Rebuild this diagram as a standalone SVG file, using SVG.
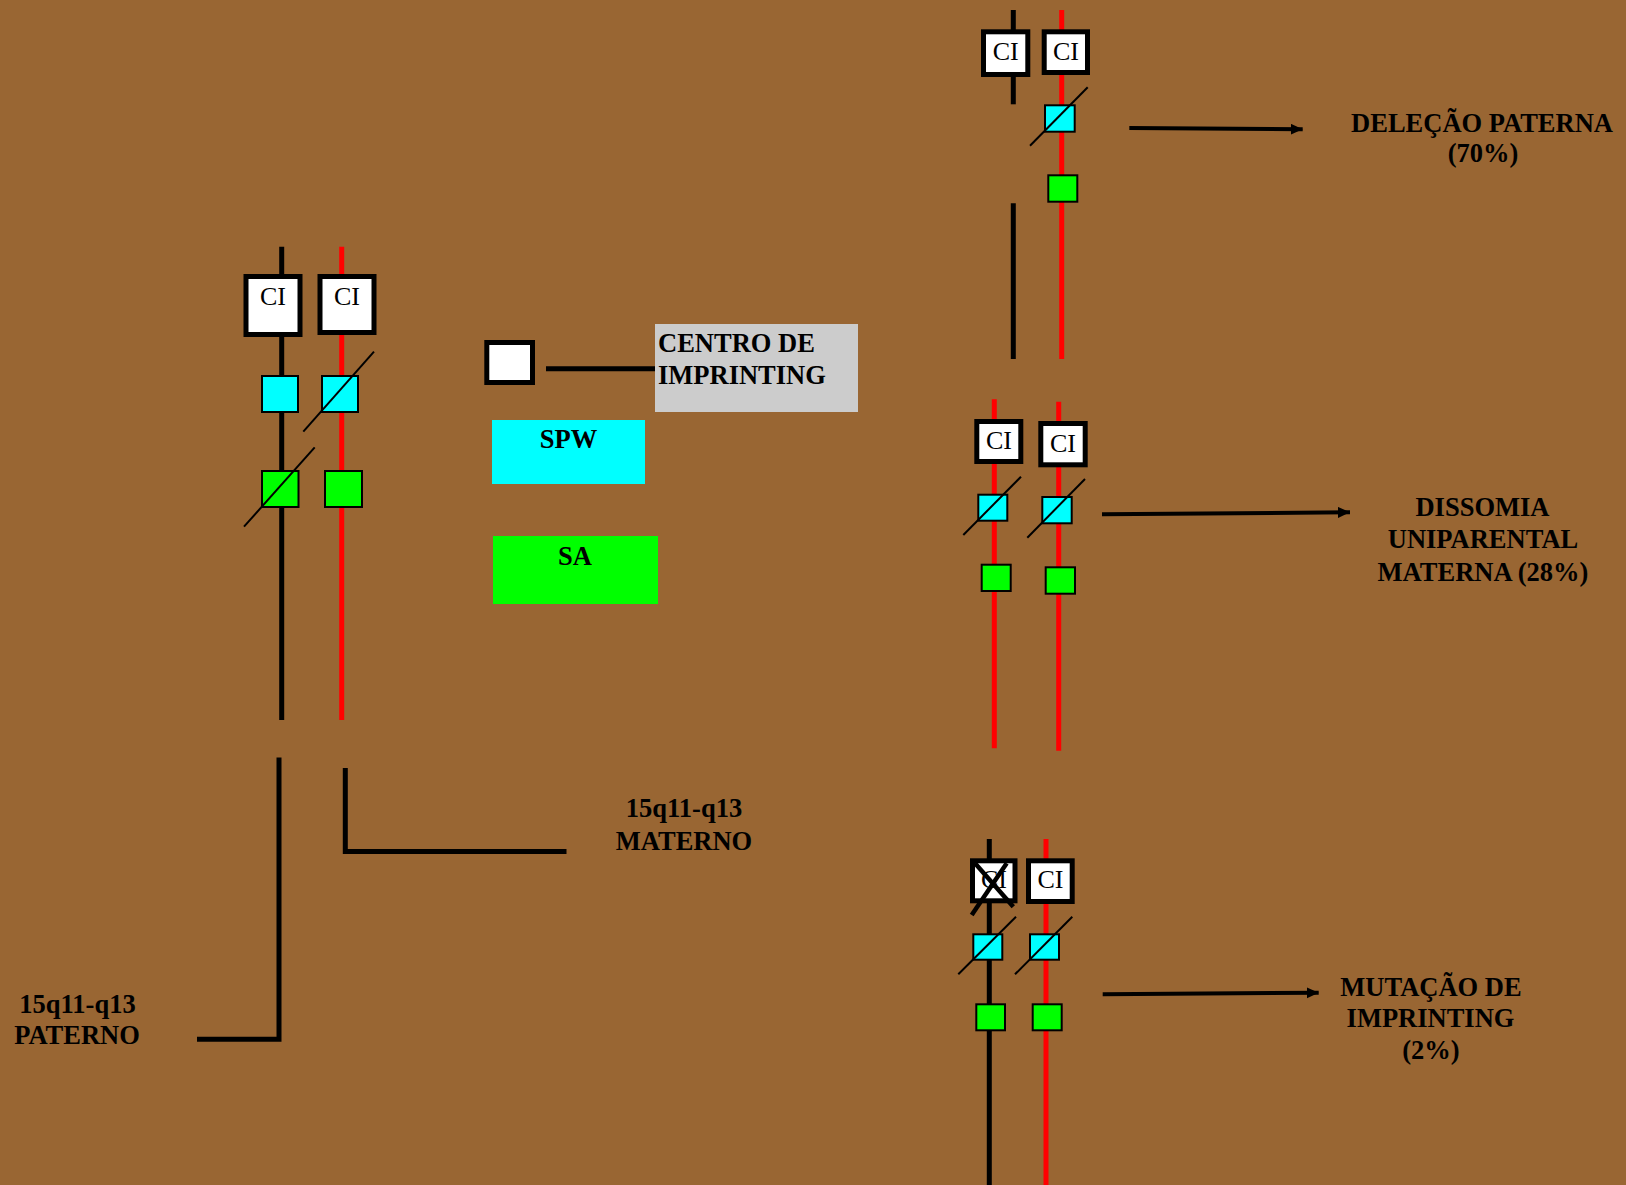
<svg xmlns="http://www.w3.org/2000/svg" width="1626" height="1185" viewBox="0 0 1626 1185">
<style>
.chrB{stroke:#000;stroke-width:5;fill:none}
.chrR{stroke:#f00;stroke-width:5;fill:none}
.ci{fill:#fff;stroke:#000;stroke-width:5}
.cit{font-family:"Liberation Serif",serif;font-size:26px;fill:#000;text-anchor:middle}
.cy{fill:#0ff;stroke:#000;stroke-width:2}
.gr{fill:#0f0;stroke:#000;stroke-width:2}
.sl{stroke:#000;stroke-width:2}
.lbl{font-family:"Liberation Serif",serif;font-size:26.5px;font-weight:bold;fill:#000;text-anchor:middle}
.lblL{font-family:"Liberation Serif",serif;font-size:26.5px;font-weight:bold;fill:#000}
.arr{stroke:#000;stroke-width:4;fill:none;marker-end:url(#ah)}
.conn{stroke:#000;stroke-width:5;fill:none}
</style>
<defs>
<marker id="ah" markerUnits="userSpaceOnUse" markerWidth="13" markerHeight="12" refX="12" refY="5.5" orient="auto">
<path d="M0,0 L12,5.5 L0,11 z" fill="#000"/>
</marker>
</defs>
<rect x="0" y="0" width="1626" height="1185" fill="#996633"/>

<g id="normal-pair">
<line class="chrB" x1="281.7" y1="246.7" x2="281.7" y2="720"/>
<line class="chrR" x1="341.7" y1="246.7" x2="341.7" y2="720"/>
<rect class="ci" x="246" y="276.5" width="54" height="58"/>
<text class="cit" x="273" y="305">CI</text>
<rect class="ci" x="320" y="276.5" width="54" height="56"/>
<text class="cit" x="347" y="305">CI</text>
<rect class="cy" x="262" y="376" width="36" height="36"/>
<rect class="cy" x="322" y="376" width="36" height="36"/>
<line class="sl" x1="303.3" y1="431.7" x2="374" y2="351.7"/>
<rect class="gr" x="262" y="471" width="36.5" height="36"/>
<line class="sl" x1="244" y1="526.7" x2="314.7" y2="447.3"/>
<rect class="gr" x="325" y="471" width="37" height="36"/>
</g>

<g id="legend-ci">
<rect class="ci" x="486.8" y="342.5" width="45.7" height="40"/>
<rect x="655" y="324" width="203" height="88" fill="#ccc"/>
<text class="lblL" x="658" y="352.3">CENTRO DE</text>
<text class="lblL" x="658" y="384">IMPRINTING</text>
</g>
<g id="legend-spw">
<rect x="492" y="420" width="153" height="64" fill="#0ff"/>
<text class="lbl" x="568.5" y="447.7">SPW</text>
</g>
<g id="legend-sa">
<rect x="493" y="536" width="165" height="68" fill="#0f0"/>
<text class="lbl" x="575" y="565">SA</text>
</g>

<g id="label-materno">
<text class="lbl" x="684" y="817.3">15q11-q13</text>
<text class="lbl" x="684" y="850">MATERNO</text>
</g>
<g id="label-paterno">
<text class="lbl" x="77.5" y="1013.3">15q11-q13</text>
<text class="lbl" x="77" y="1044.3">PATERNO</text>
</g>

<g id="delecao-pair">
<line class="chrB" x1="1013.3" y1="10" x2="1013.3" y2="104.3"/>
<line class="chrB" x1="1013.3" y1="203.3" x2="1013.3" y2="359"/>
<line class="chrR" x1="1061.7" y1="10" x2="1061.7" y2="359"/>
<rect class="ci" x="983.5" y="31.8" width="44.3" height="42.7"/>
<text class="cit" x="1005.7" y="60">CI</text>
<rect class="ci" x="1044.2" y="31.8" width="43.3" height="40.7"/>
<text class="cit" x="1066" y="60">CI</text>
<rect class="cy" x="1045" y="105.3" width="29.7" height="26.4"/>
<line class="sl" x1="1030" y1="145.7" x2="1087.7" y2="87.3"/>
<rect class="gr" x="1048.3" y="175.3" width="29" height="26.4"/>
</g>
<g id="label-delecao">
<text class="lbl" x="1482" y="131.7">DELEÇÃO PATERNA</text>
<text class="lbl" x="1483" y="161.7">(70%)</text>
</g>

<g id="dissomia-pair">
<line class="chrR" x1="994.3" y1="399.3" x2="994.3" y2="748.3"/>
<line class="chrR" x1="1058.7" y1="401.7" x2="1058.7" y2="750.7"/>
<rect class="ci" x="976.8" y="421.5" width="44" height="40"/>
<text class="cit" x="999" y="449">CI</text>
<rect class="ci" x="1040.8" y="423.5" width="44.4" height="41.3"/>
<text class="cit" x="1063" y="451.7">CI</text>
<rect class="cy" x="978.3" y="494.7" width="29" height="26"/>
<line class="sl" x1="963.3" y1="535" x2="1021" y2="476.7"/>
<rect class="cy" x="1042.3" y="497" width="29.4" height="26.3"/>
<line class="sl" x1="1027.3" y1="537.7" x2="1085" y2="479"/>
<rect class="gr" x="981.7" y="564.7" width="29" height="26.3"/>
<rect class="gr" x="1045.7" y="567.3" width="29.3" height="26.4"/>
</g>
<g id="label-dissomia">
<text class="lbl" x="1482.5" y="516">DISSOMIA</text>
<text class="lbl" x="1483" y="548.4">UNIPARENTAL</text>
<text class="lbl" x="1483" y="581">MATERNA (28%)</text>
</g>

<g id="mutacao-pair">
<line class="chrB" x1="989.3" y1="839" x2="989.3" y2="1185"/>
<line class="chrR" x1="1046" y1="839" x2="1046" y2="1185"/>
<rect class="ci" x="972.5" y="860.8" width="42.5" height="40"/>
<text class="cit" x="994" y="888.3">CI</text>
<line stroke="#000" stroke-width="4.5" x1="975" y1="863.3" x2="1013.3" y2="906.7"/>
<line stroke="#000" stroke-width="4.5" x1="1006.7" y1="863.3" x2="971.7" y2="915"/>
<rect class="ci" x="1028.5" y="860.8" width="43.7" height="40.7"/>
<text class="cit" x="1050.5" y="888.3">CI</text>
<rect class="cy" x="973.3" y="934.3" width="29" height="25.4"/>
<line class="sl" x1="958.3" y1="974.3" x2="1016" y2="916.7"/>
<rect class="cy" x="1030" y="934.3" width="29" height="25.4"/>
<line class="sl" x1="1015" y1="974.3" x2="1072.3" y2="916.7"/>
<rect class="gr" x="976.3" y="1004.3" width="28.7" height="26"/>
<rect class="gr" x="1032.7" y="1004.3" width="29" height="26"/>
</g>
<g id="label-mutacao">
<text class="lbl" x="1431" y="995.7">MUTAÇÃO DE</text>
<text class="lbl" x="1430.5" y="1027.3">IMPRINTING</text>
<text class="lbl" x="1431" y="1059.3">(2%)</text>
</g>

<g id="connectors">
<line class="conn" x1="546" y1="368.7" x2="655" y2="368.7" stroke-width="6"/>
<polyline class="conn" points="345.3,768 345.3,851.4 566.5,851.4"/>
<polyline class="conn" points="279,757.5 279,1039.3 197,1039.3"/>
<line class="arr" x1="1129.3" y1="128" x2="1302.7" y2="129.3"/>
<line class="arr" x1="1102" y1="514.3" x2="1350" y2="512.3"/>
<line class="arr" x1="1102.7" y1="994.3" x2="1318.7" y2="992.7"/>
</g>
</svg>
